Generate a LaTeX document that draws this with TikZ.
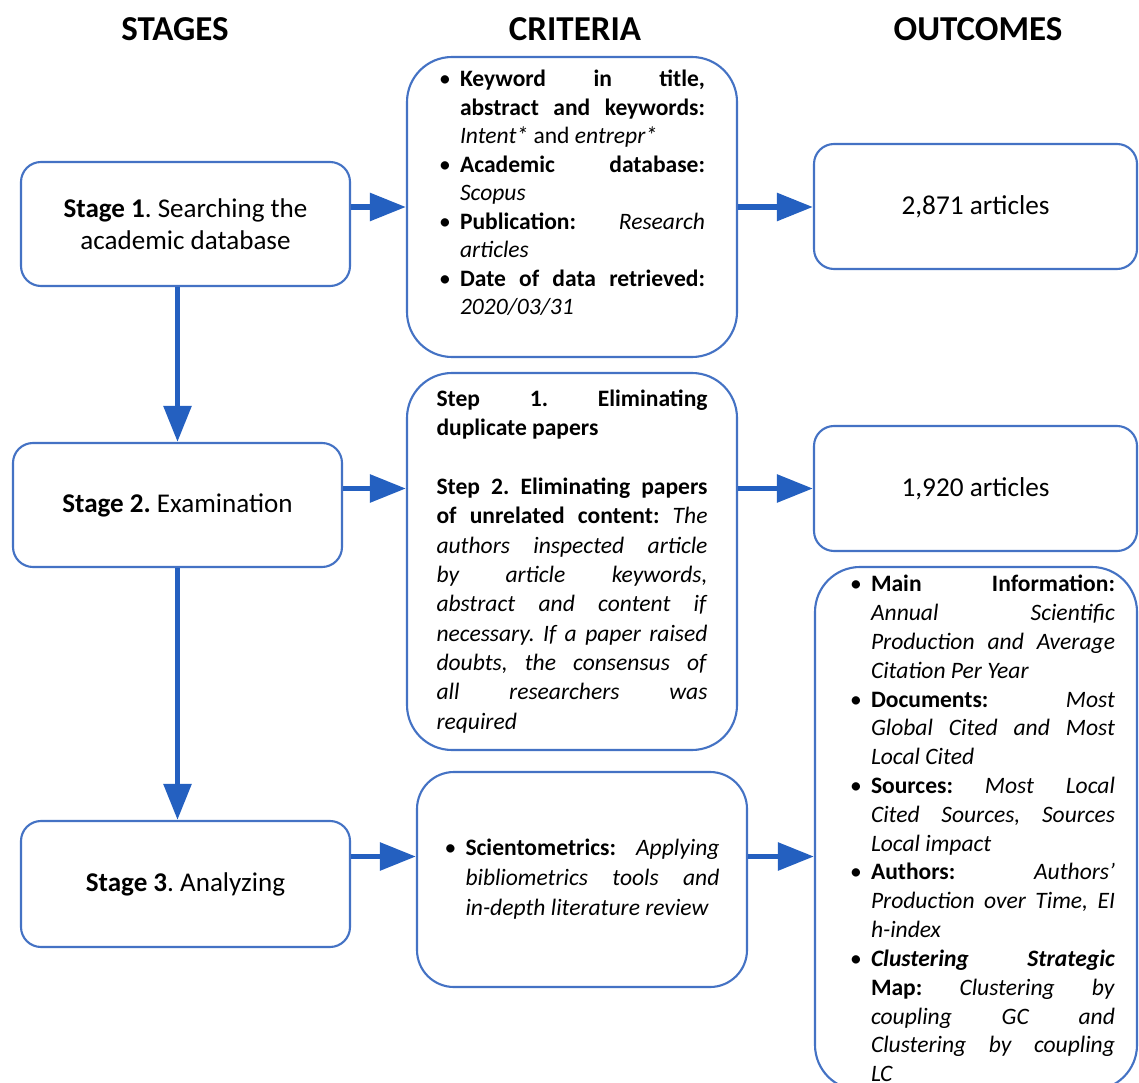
\documentclass[tikz,border=0pt]{standalone}
\usepackage{fontspec}
\setmainfont{Carlito}
\usepackage{xcolor}
\usepackage{tikz}
\usetikzlibrary{arrows.meta}
\usetikzlibrary{calc}

\definecolor{boxblue}{RGB}{68,114,196}
\definecolor{arrowblue}{RGB}{36,96,192}

\frenchspacing
\newcommand\bitem{\par\noindent\hangindent=0.42cm\hangafter=1\hbox to 0.42cm{\textbullet\hfil}}
\newcommand\bodyfont{\fontsize{13.4}{16.2}\selectfont\tolerance=10000\hyphenpenalty=10000\exhyphenpenalty=10000}

\tikzset{
  head/.style={font=\fontsize{19.9}{24}\selectfont\bfseries},
  stagebox/.style={draw=boxblue, line width=1.2pt, rounded corners=0.4cm, align=center,
    font=\fontsize{15.4}{18.2}\selectfont, inner sep=0pt, minimum width=6.58cm, minimum height=2.48cm},
  critbox/.style={draw=boxblue, line width=1.2pt, rounded corners=0.9cm, inner sep=0pt, minimum width=6.6cm},
  outbox/.style={draw=boxblue, line width=1.2pt, rounded corners=0.4cm, inner sep=0pt,
    font=\fontsize{15.5}{18.2}\selectfont, minimum width=6.46cm, minimum height=2.5cm},
  flow/.style={draw=arrowblue, line width=3.2pt, -{Triangle[length=0.72cm,width=0.54cm]}},
}

\begin{document}
\begin{tikzpicture}
        \path[use as bounding box, fill=white] (0,0) rectangle (22.78,-21.66);

        % column heads
        \node[head] (hstage) at (3.5,-0.58) {STAGES};
        \node[head] (hcrit) at (11.5,-0.58) {CRITERIA};
        \node[head] (hout) at (19.56,-0.58) {OUTCOMES};

        % stages
        \node[stagebox] (s1) at (3.71,-4.48) {\textbf{Stage 1}. Searching the\\academic database};
        \node[stagebox] (s2) at (3.55,-10.1) {\textbf{Stage 2.} Examination};
        \node[stagebox, minimum height=2.52cm] (s3) at (3.71,-17.68) {\textbf{Stage 3}. Analyzing};

        % criteria
        \node[critbox, minimum height=6cm] (c1) at (11.44,-4.14) {\raisebox{0.28cm}[\height][\depth]{\begin{minipage}{5.32cm}\bodyfont
            \bitem\textbf{Keyword in title,}\linebreak\textbf{abstract and keywords:}\linebreak\textit{Intent*} and \textit{entrepr*}
            \bitem\textbf{Academic database:}\linebreak\textit{Scopus}
            \bitem\textbf{Publication:} \textit{Research}\linebreak\textit{articles}
            \bitem\textbf{Date of data retrieved:}\linebreak\textit{2020/03/31}
        \end{minipage}}};
        \node[critbox, minimum height=7.54cm] (c2) at (11.44,-11.23) {\begin{minipage}{5.42cm}\bodyfont\baselineskip=16.7pt
            \textbf{Step 1. Eliminating}\linebreak\textbf{duplicate papers}\par\vspace{16.7pt}
            \textbf{Step 2. Eliminating papers}\linebreak\textbf{of unrelated content:} \textit{The}\linebreak
            \textit{authors inspected article}\linebreak\textit{by article keywords,}\linebreak
            \textit{abstract and content if}\linebreak\textit{necessary. If a paper raised}\linebreak
            \textit{doubts, the consensus of}\linebreak\textit{all researchers was}\linebreak\textit{required}
        \end{minipage}};
        \node[critbox, minimum height=4.3cm, rounded corners=0.74cm] (c3) at (11.64,-17.59) {\begin{minipage}{5.5cm}\bodyfont\baselineskip=17pt
            \bitem\textbf{Scientometrics:} \textit{Applying}\linebreak\textit{bibliometrics tools and}\linebreak\textit{in-depth literature review}
        \end{minipage}};

        % outcomes
        \node[outbox] (o1) at (19.51,-4.13) {2,871 articles};
        \node[outbox] (o2) at (19.51,-9.77) {1,920 articles};
        \node[critbox, minimum width=6.44cm, minimum height=10.46cm] (o3) at (19.52,-16.57) {\hspace*{0.26cm}\begin{minipage}{5.3cm}\bodyfont\baselineskip=16.4pt
            \bitem\textbf{Main Information:}\linebreak\textit{Annual Scientific}\linebreak\textit{Production and Average}\linebreak\textit{Citation Per Year}
            \bitem\textbf{Documents:} \textit{Most}\linebreak\textit{Global Cited and Most}\linebreak\textit{Local Cited}
            \bitem\textbf{Sources:} \textit{Most Local}\linebreak\textit{Cited Sources, Sources}\linebreak\textit{Local impact}
            \bitem\textbf{Authors:} \textit{Authors’}\linebreak\textit{Production over Time, EI}\linebreak\textit{h-index}
            \bitem\textbf{\textit{Clustering Strategic}}\linebreak\textbf{Map:} \textit{Clustering by}\linebreak\textit{coupling GC and}\linebreak\textit{Clustering by coupling}\linebreak\textit{LC}
        \end{minipage}};

        % arrows
        \coordinate (r3) at (0,-17.13);
        \draw[flow] (s1.south -| s2.north) -- (s2.north);
        \draw[flow] (s2.south) -- (s2.south |- s3.north);
        \draw[flow] (s1.east |- c1.west) -- (c1.west);
        \draw[flow] (c1.east) -- (o1.west |- c1.east);
        \draw[flow] (s2.east |- o2.west) -- (c2.west |- o2.west);
        \draw[flow] (c2.east |- o2.west) -- (o2.west);
        \draw[flow] (s3.east |- r3) -- (c3.west |- r3);
        \draw[flow] (c3.east |- r3) -- (o3.west |- r3);
\end{tikzpicture}
\end{document}
